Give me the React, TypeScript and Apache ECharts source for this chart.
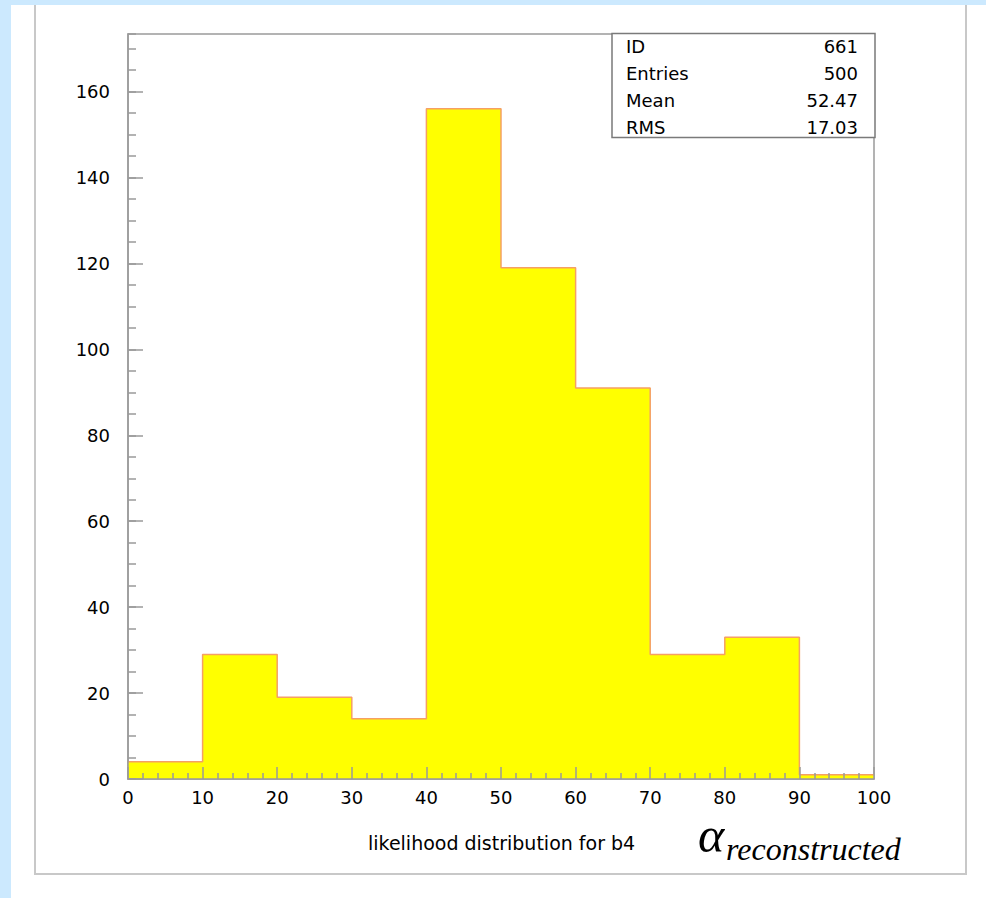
import React, { useEffect, useRef } from "react";
import * as echarts from "echarts";

const binEdges = [0, 10, 20, 30, 40, 50, 60, 70, 80, 90, 100];
const counts = [4, 29, 19, 14, 156, 119, 91, 29, 33, 1];
const statLabels = ["ID", "Entries", "Mean", "RMS"];
const statValues = ["661", "500", "52.47", "17.03"];
const xTitle = "likelihood distribution for b4";
const symbolTitle = "α";
const symbolSub = "reconstructed";

const Y_MAX = 173.4;

export default function App() {
  const ref = useRef<HTMLDivElement>(null);
  useEffect(() => {
    if (!ref.current) return;
    const chart = echarts.init(ref.current, undefined, { renderer: "svg" });

    const points: [number, number][] = counts.map((c, i) => [binEdges[i], c]);
    points.push([binEdges[binEdges.length - 1], counts[counts.length - 1]]);

    const font = "DejaVu Sans";
    const gray = "#9a9a9a";

    const statTexts: any[] = [];
    const rowY = [46.5, 73.5, 100.5, 127.5];
    statLabels.forEach((l, i) => {
      statTexts.push({
        type: "text",
        z: 101,
        style: { text: l, x: 626, y: rowY[i], fill: "#000", fontSize: 18, fontFamily: font, align: "left", verticalAlign: "middle" },
      });
      statTexts.push({
        type: "text",
        z: 101,
        style: { text: statValues[i], x: 858, y: rowY[i], fill: "#000", fontSize: 18, fontFamily: font, align: "right", verticalAlign: "middle" },
      });
    });

    chart.setOption({
      animation: false,
      backgroundColor: "#cce9fe",
      grid: {
        left: 128,
        top: 34,
        right: 112,
        bottom: 119,
        show: true,
        borderColor: gray,
        borderWidth: 1.5,
        z: 1,
      },
      xAxis: {
        type: "value",
        min: 0,
        max: 100,
        interval: 10,
        position: "bottom",
        z: 10,
        axisLine: { show: true, lineStyle: { color: gray, width: 1.5 } },
        axisTick: { show: true, inside: true, length: 12, lineStyle: { color: gray, width: 1.5 } },
        minorTick: { show: true, splitNumber: 5, length: 6, lineStyle: { color: gray, width: 1.5 } },
        splitLine: { show: false },
        axisLabel: { color: "#000", fontSize: 18, fontFamily: font, margin: 9 },
      },
      yAxis: [
        {
          type: "value",
          min: 0,
          max: Y_MAX,
          interval: 5,
          position: "left",
          z: 10,
          axisLine: { show: true, lineStyle: { color: gray, width: 1.5 } },
          axisTick: { show: true, inside: true, length: 8, lineStyle: { color: gray, width: 1.5 } },
          splitLine: { show: false },
          axisLabel: { show: false },
        },
        {
          type: "value",
          min: 0,
          max: Y_MAX,
          interval: 20,
          position: "left",
          z: 10,
          axisLine: { show: false },
          axisTick: { show: true, inside: true, length: 15, lineStyle: { color: gray, width: 1.5 } },
          splitLine: { show: false },
          axisLabel: { color: "#000", fontSize: 18, fontFamily: font, margin: 18, showMaxLabel: false },
        },
      ],
      series: [
        {
          type: "line",
          xAxisIndex: 0,
          yAxisIndex: 0,
          step: "end",
          symbol: "none",
          z: 2,
          data: points,
          lineStyle: { color: "#f5a064", width: 1.5 },
          areaStyle: { color: "#ffff00", opacity: 1 },
        },
      ],
      graphic: [
        {
          type: "rect",
          z: -100,
          shape: { x: 11, y: 5, width: 975, height: 893 },
          style: { fill: "#ffffff" },
        },
        {
          type: "polyline",
          z: -99,
          shape: { points: [[35, 5], [35, 874], [966, 874], [966, 5]] },
          style: { stroke: "#c8c8c8", lineWidth: 2, fill: null },
        },
        {
          type: "rect",
          z: 100,
          shape: { x: 612, y: 33.5, width: 263, height: 104 },
          style: { fill: "#ffffff", stroke: "#7a7a7a", lineWidth: 1.5 },
        },
        ...statTexts,
        {
          type: "text",
          z: 100,
          style: { text: xTitle, x: 368, y: 843, fill: "#000", fontSize: 19, fontFamily: font, align: "left", verticalAlign: "middle" },
        },
        {
          type: "text",
          z: 100,
          style: {
            text: symbolTitle,
            x: 698,
            y: 835,
            fill: "#000",
            fontSize: 50,
            lineHeight: 28,
            fontFamily: "Liberation Serif",
            fontStyle: "italic",
            align: "left",
            verticalAlign: "middle",
          },
        },
        {
          type: "text",
          z: 100,
          style: {
            text: symbolSub,
            x: 726,
            y: 849,
            fill: "#000",
            fontSize: 32,
            lineHeight: 22,
            fontFamily: "Liberation Serif",
            fontStyle: "italic",
            align: "left",
            verticalAlign: "middle",
          },
        },
      ],
    });
    return () => chart.dispose();
  }, []);
  return <div ref={ref} style={{ position: "fixed", left: 0, top: 0, width: 986, height: 898 }} />;
}
